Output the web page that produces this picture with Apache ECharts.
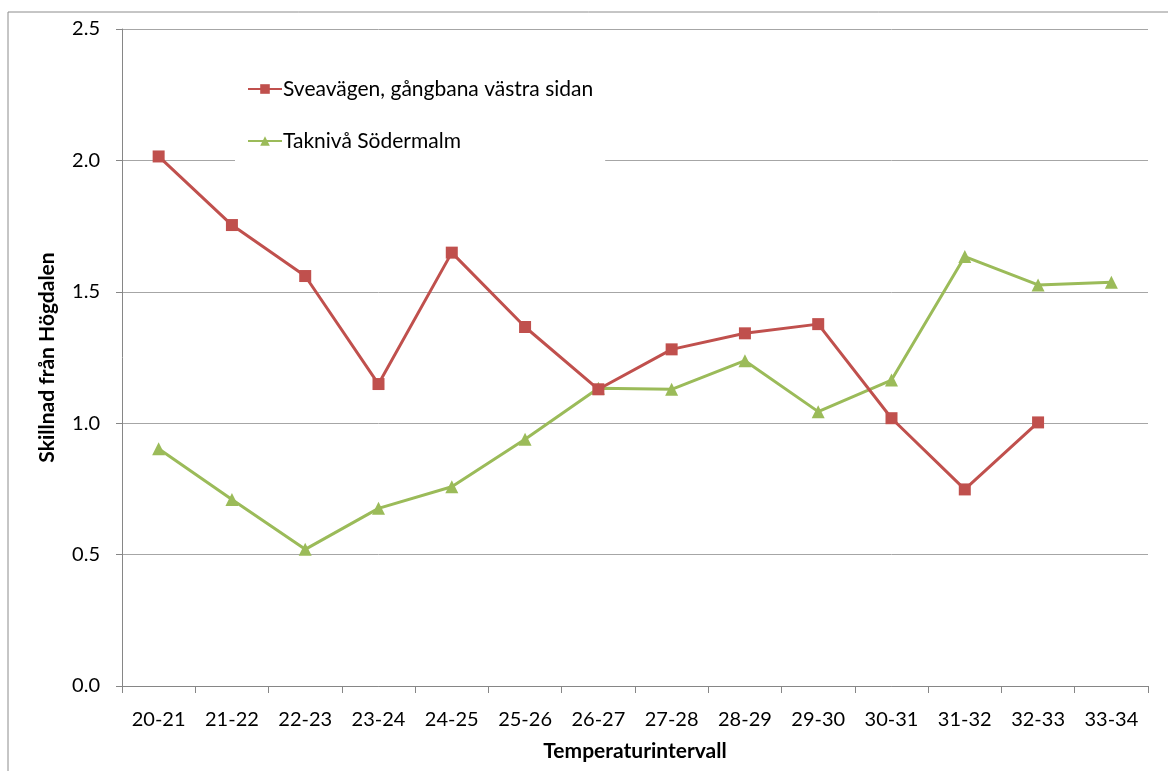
<!DOCTYPE html>
<html>
<head>
    <meta charset="utf-8">
    <title>Skillnad från Högdalen</title>
    <script src="https://cdn.jsdelivr.net/npm/echarts@6/dist/echarts.min.js"></script>
    <style>
        html, body { margin: 0; padding: 0; background: #fff; }
        #main { width: 1168px; height: 771px; }
    </style>
</head>
<body>
<div id="main"></div>
<script>
    // kategorier och värden
    var categories = ['20-21', '21-22', '22-23', '23-24', '24-25', '25-26', '26-27',
                      '27-28', '28-29', '29-30', '30-31', '31-32', '32-33', '33-34'];
    var sveavagen = [2.015, 1.754, 1.560, 1.149, 1.649, 1.366, 1.129,
                     1.281, 1.342, 1.377, 1.019, 0.748, 1.003, null];
    var takniva = [0.903, 0.710, 0.520, 0.676, 0.758, 0.939, 1.133,
                   1.129, 1.238, 1.044, 1.164, 1.634, 1.526, 1.536];
    var yTicks = [0, 0.5, 1.0, 1.5, 2.0, 2.5];

    var font = 'Lato, "Open Sans", sans-serif';
    var axisGrey = '#868686';

    var option = {
        animation: false,
        textStyle: { fontFamily: font, color: '#000' },
        graphic: [{
            type: 'rect',
            shape: { x: 8, y: 12, width: 1200, height: 800 },
            style: { fill: 'none', stroke: '#8c8c8c', lineWidth: 1 },
            silent: true
        }],
        grid: { left: 122, right: 20, top: 29, bottom: 85 },
        legend: {
            orient: 'vertical',
            left: 235,
            top: 60,
            padding: [18, 12, 14, 12],
            itemGap: 30,
            itemWidth: 34,
            itemHeight: 12,
            backgroundColor: '#fff',
            textStyle: { fontFamily: font, fontSize: 21, lineHeight: 22, color: '#000', padding: [0, 0, 0, -4] },
            data: ['Sveavägen, gångbana västra sidan', 'Taknivå Södermalm']
        },
        xAxis: {
            type: 'category',
            data: categories,
            boundaryGap: true,
            name: 'Temperaturintervall',
            nameLocation: 'middle',
            nameGap: 55,
            nameTextStyle: { fontFamily: font, fontSize: 21, fontWeight: 'bold', color: '#000' },
            axisLine: { lineStyle: { color: axisGrey, width: 1 } },
            axisTick: { show: true, length: 7, lineStyle: { color: axisGrey } },
            axisLabel: { fontFamily: font, fontSize: 20, color: '#000', margin: 24, interval: 0 },
            splitLine: { show: false }
        },
        yAxis: {
            type: 'value',
            min: yTicks[0],
            max: yTicks[yTicks.length - 1],
            interval: 0.5,
            name: 'Skillnad från Högdalen',
            nameLocation: 'middle',
            nameGap: 64,
            nameTextStyle: { fontFamily: font, fontSize: 21, fontWeight: 'bold', color: '#000' },
            axisLine: { show: true, lineStyle: { color: axisGrey, width: 1 } },
            axisTick: { show: true, length: 6, lineStyle: { color: axisGrey } },
            axisLabel: {
                fontFamily: font, fontSize: 20, color: '#000', margin: 22,
                formatter: function (v) { return v.toFixed(1); }
            },
            splitLine: { lineStyle: { color: '#a6a6a6', width: 1 } }
        },
        series: [
            {
                name: 'Sveavägen, gångbana västra sidan',
                type: 'line',
                data: sveavagen,
                symbol: 'rect',
                symbolSize: 12,
                color: '#C0504D',
                lineStyle: { width: 3, color: '#C0504D' },
                itemStyle: { color: '#C0504D' },
                z: 3
            },
            {
                name: 'Taknivå Södermalm',
                type: 'line',
                data: takniva,
                symbol: 'triangle',
                symbolSize: 13,
                color: '#9BBB59',
                lineStyle: { width: 3, color: '#9BBB59' },
                itemStyle: { color: '#9BBB59' },
                z: 2
            }
        ]
    };

    var myChart = echarts.init(document.getElementById('main'));
    myChart.setOption(option);
</script>
</body>
</html>
